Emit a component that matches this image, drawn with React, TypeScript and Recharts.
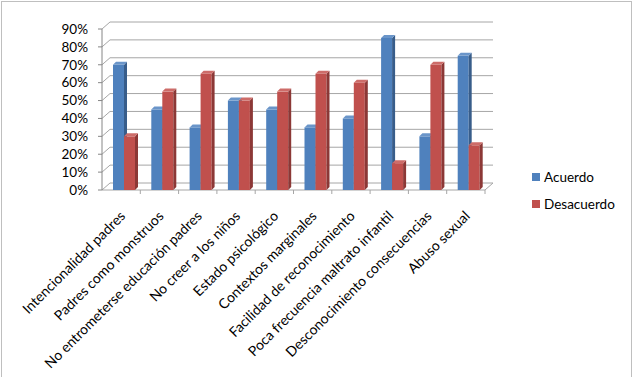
import React from 'react';
import { BarChart, Bar, XAxis, YAxis, CartesianGrid } from 'recharts';

const categories = [
  'Intencionalidad padres',
  'Padres como monstruos',
  'No entrometerse educación padres',
  'No creer a los niños',
  'Estado psicológico',
  'Contextos marginales',
  'Facilidad de reconocimiento',
  'Poca frecuencia maltrato infantil',
  'Desconocimiento consecuencias',
  'Abuso sexual',
];
const acuerdo = [0.7, 0.45, 0.35, 0.5, 0.45, 0.35, 0.4, 0.85, 0.3, 0.75];
const desacuerdo = [0.3, 0.55, 0.65, 0.5, 0.55, 0.65, 0.6, 0.15, 0.7, 0.25];
const yTicks = [0, 0.1, 0.2, 0.3, 0.4, 0.5, 0.6, 0.7, 0.8, 0.9];
const seriesNames = ['Acuerdo', 'Desacuerdo'];

const data = categories.map((name, i) => ({
  name,
  acuerdo: acuerdo[i],
  desacuerdo: desacuerdo[i],
}));

const FONT = 'Lato, "Open Sans", sans-serif';
const CHART_W = 629;
const CHART_H = 375;
const MARGIN = { top: 27, right: 146, bottom: 67, left: 40 };
const PLOT_W = CHART_W - MARGIN.left - MARGIN.right - 60;
const BAND = PLOT_W / categories.length;

// depth of the fake 3D wall and of each bar
const WALL_DX = 8;
const WALL_DY = -7;
const BAR_D = 3;
const BAR_SHIFT = 3;

const COLORS = {
  acuerdo: { front: '#4f81bd', side: '#385d8a', top: '#6a95c9' },
  desacuerdo: { front: '#c0504d', side: '#8c3836', top: '#cd6c69' },
};

const bar3D = (palette: { front: string; side: string; top: string }) => (props: any) => {
  const { x, y, width, height } = props;
  if (height == null || width == null) return <g />;
  const bx = x + BAR_SHIFT;
  const d = BAR_D;
  return (
    <g>
      <rect x={bx} y={y} width={width} height={height} fill={palette.front} />
      <polygon
        points={`${bx + width},${y} ${bx + width + d},${y - d} ${bx + width + d},${y + height - d} ${bx + width},${y + height}`}
        fill={palette.side}
      />
      <polygon
        points={`${bx},${y} ${bx + d},${y - d} ${bx + width + d},${y - d} ${bx + width},${y}`}
        fill={palette.top}
      />
    </g>
  );
};

const gridLine = (props: any) => {
  const { x1, y1, x2, y, height, key } = props;
  const isFloor = Math.abs(y1 - (y + height)) < 0.5;
  return (
    <g key={key}>
      <line x1={x1 + WALL_DX} y1={y1 + WALL_DY} x2={x2 + WALL_DX} y2={y1 + WALL_DY} stroke="#a6a6a6" />
      <line x1={x1} y1={y1} x2={x1 + WALL_DX} y2={y1 + WALL_DY} stroke="#a6a6a6" />
      {isFloor && (
        <>
          <line x1={x2} y1={y1} x2={x2 + WALL_DX} y2={y1 + WALL_DY} stroke="#a6a6a6" />
          <line x1={x1} y1={y1} x2={x2} y2={y1} stroke="#a6a6a6" />
        </>
      )}
    </g>
  );
};

const XTick = (props: any) => {
  const { x, y, payload } = props;
  return (
    <g>
      <line x1={x + BAND / 2} y1={y} x2={x + BAND / 2} y2={y + 4} stroke="#a6a6a6" />
      <text
        x={0}
        y={0}
        transform={`translate(${x + 5},${y + 27}) rotate(-45)`}
        textAnchor="end"
        fontFamily={FONT}
        fontSize={14}
        fill="#000"
      >
        {payload.value}
      </text>
    </g>
  );
};

const App: React.FC = () => {
  return (
    <div
      style={{
        position: 'absolute',
        left: 1,
        top: 1,
        width: CHART_W,
        height: 380,
        border: '1px solid #bfbfbf',
        background: '#fff',
      }}
    >
      <BarChart width={CHART_W} height={CHART_H} data={data} margin={MARGIN} barGap={0}>
        <CartesianGrid vertical={false} horizontal={gridLine} />
        <XAxis
          dataKey="name"
          interval={0}
          axisLine={false}
          tickLine={false}
          tickSize={0}
          tickMargin={0}
          height={120}
          tick={<XTick />}
        />
        <YAxis
          domain={[0, 0.9]}
          ticks={yTicks}
          interval={0}
          width={60}
          tickSize={4}
          tickMargin={10}
          axisLine={{ stroke: '#868686' }}
          tickLine={{ stroke: '#868686' }}
          tickFormatter={(v: number) => `${Math.round(v * 100)}%`}
          tick={{ fill: '#000', fontFamily: FONT, fontSize: 13.5 }}
        />
        <Bar dataKey="acuerdo" name={seriesNames[0]} barSize={11} isAnimationActive={false} shape={bar3D(COLORS.acuerdo)} />
        <Bar dataKey="desacuerdo" name={seriesNames[1]} barSize={11} isAnimationActive={false} shape={bar3D(COLORS.desacuerdo)} />
      </BarChart>
      <div style={{ position: 'absolute', left: 530, top: 161, fontFamily: FONT, fontSize: 13.5, color: '#000' }}>
        {seriesNames.map((s, i) => (
          <div key={s} style={{ display: 'flex', alignItems: 'center', height: 27 }}>
            <span
              style={{
                display: 'inline-block',
                width: 8,
                height: 8,
                marginRight: 4,
                background: i === 0 ? COLORS.acuerdo.front : COLORS.desacuerdo.front,
              }}
            />
            {s}
          </div>
        ))}
      </div>
    </div>
  );
};

export default App;
